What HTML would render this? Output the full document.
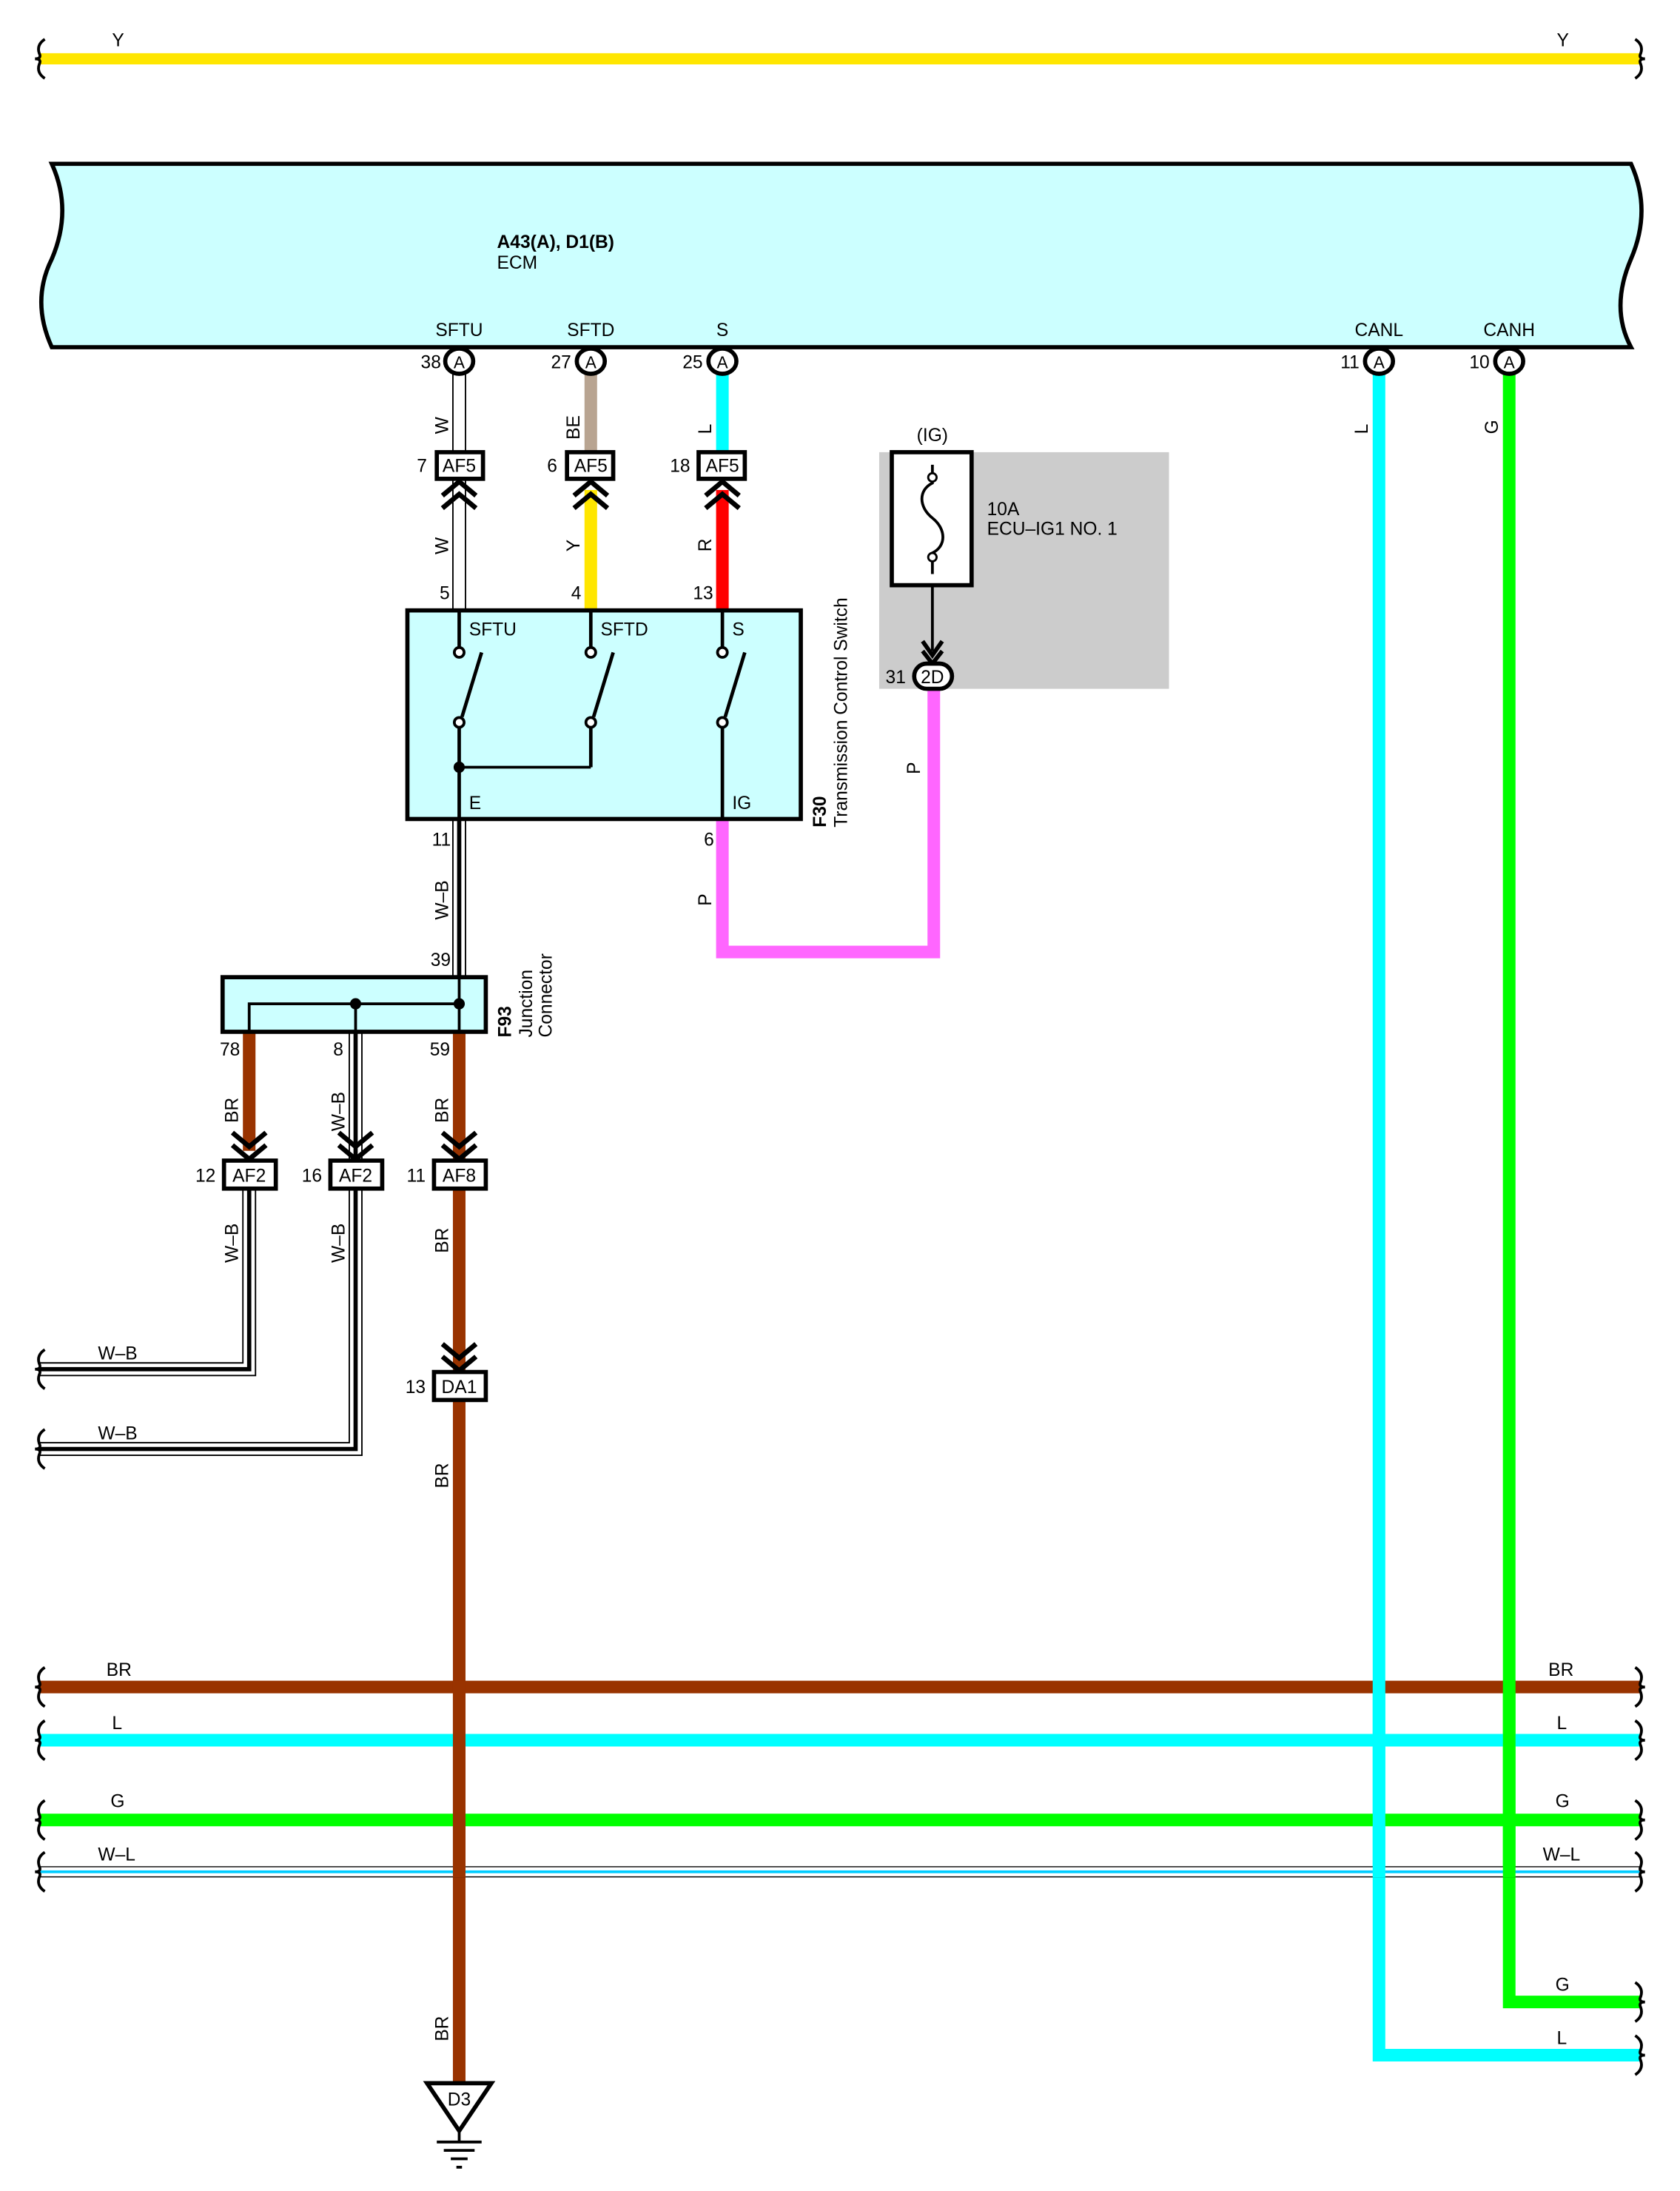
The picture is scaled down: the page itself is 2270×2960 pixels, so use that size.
<!DOCTYPE html>
<html><head><meta charset="utf-8"><style>
html,body{margin:0;padding:0;background:#fff}
svg{display:block}
text{font-family:"Liberation Sans",sans-serif;font-size:13px;fill:#000}
</style></head><body>
<svg width="2270" height="2960" viewBox="0 0 1200 1565" preserveAspectRatio="none" xmlns="http://www.w3.org/2000/svg">
<defs>
<g id="braceL"><path d="M4,-14 Q-2,-10 0,-4 Q2,0 -3,0 Q2,0 0,4 Q-2,10 4,14" fill="none" stroke="#000" stroke-width="2"/></g>
<g id="braceR"><path d="M-4,-14 Q2,-10 0,-4 Q-2,0 3,0 Q-2,0 0,4 Q2,10 -4,14" fill="none" stroke="#000" stroke-width="2"/></g>
<g id="chevUp"><path d="M-12,10 L0,0 L12,10 M-12,19 L0,9 L12,19" fill="none" stroke="#000" stroke-width="3.5"/></g>
<g id="chevDn"><path d="M-12,-10 L0,0 L12,-10 M-12,-19 L0,-9 L12,-19" fill="none" stroke="#000" stroke-width="3.5"/></g>
</defs>

<!-- top Y wire -->
<line x1="28" y1="42" x2="1172" y2="42" stroke="#ffe600" stroke-width="8"/>
<use href="#braceL" x="28" y="42"/><use href="#braceR" x="1172" y="42"/>
<text x="80" y="33">Y</text><text x="1112" y="33">Y</text>

<!-- ECM -->
<path d="M37,117 L1165,117 Q1180,150 1165,185 Q1150,220 1165,248 L37,248 Q22,215 37,185 Q52,150 37,117 Z" fill="#ccffff" stroke="#000" stroke-width="3"/>
<text x="355" y="177" font-weight="bold" style="font-weight:bold">A43(A), D1(B)</text>
<text x="355" y="192">ECM</text>
<g text-anchor="middle">
<text x="328" y="240">SFTU</text><text x="422" y="240">SFTD</text><text x="516" y="240">S</text>
<text x="985" y="240">CANL</text><text x="1078" y="240">CANH</text>
</g>

<!-- ECM-side wires -->
<line x1="328" y1="267" x2="328" y2="436" stroke="#000" stroke-width="10"/>
<line x1="328" y1="267" x2="328" y2="436" stroke="#fff" stroke-width="8"/>
<line x1="422" y1="267" x2="422" y2="322" stroke="#b8a491" stroke-width="9"/>
<line x1="422" y1="350" x2="422" y2="436" stroke="#ffe600" stroke-width="9"/>
<line x1="516" y1="267" x2="516" y2="322" stroke="#00ffff" stroke-width="9"/>
<line x1="516" y1="350" x2="516" y2="436" stroke="#ff0000" stroke-width="9"/>
<!-- CAN wires -->
<path d="M985,267 L985,1468 L1172,1468" fill="none" stroke="#00ffff" stroke-width="9"/>
<path d="M1078,267 L1078,1430 L1172,1430" fill="none" stroke="#00ff00" stroke-width="9"/>

<!-- pin circles -->
<g fill="#fff" stroke="#000" stroke-width="3">
<ellipse cx="328" cy="258" rx="10" ry="9"/><ellipse cx="422" cy="258" rx="10" ry="9"/><ellipse cx="516" cy="258" rx="10" ry="9"/>
<ellipse cx="985" cy="258" rx="10" ry="9"/><ellipse cx="1078" cy="258" rx="10" ry="9"/>
</g>
<g text-anchor="middle" font-size="12">
<text x="328" y="263" style="font-size:12px">A</text><text x="422" y="263" style="font-size:12px">A</text><text x="516" y="263" style="font-size:12px">A</text>
<text x="985" y="263" style="font-size:12px">A</text><text x="1078" y="263" style="font-size:12px">A</text>
</g>
<g text-anchor="end">
<text x="315" y="263">38</text><text x="408" y="263">27</text><text x="502" y="263">25</text>
<text x="971" y="263">11</text><text x="1064" y="263">10</text>
</g>

<!-- AF5 connectors -->
<g fill="#fff" stroke="#000" stroke-width="3">
<rect x="312" y="323" width="33" height="19"/><rect x="405" y="323" width="33" height="19"/><rect x="499" y="323" width="33" height="19"/>
</g>
<g text-anchor="middle"><text x="328" y="337">AF5</text><text x="422" y="337">AF5</text><text x="516" y="337">AF5</text></g>
<g text-anchor="end"><text x="305" y="337">7</text><text x="398" y="337">6</text><text x="493" y="337">18</text></g>
<use href="#chevUp" x="328" y="344"/><use href="#chevUp" x="422" y="344"/><use href="#chevUp" x="516" y="344"/>

<!-- rotated wire labels -->
<g font-size="12">
<text transform="translate(320,310) rotate(-90)">W</text>
<text transform="translate(320,396) rotate(-90)">W</text>
<text transform="translate(414,314) rotate(-90)">BE</text>
<text transform="translate(414,394) rotate(-90)">Y</text>
<text transform="translate(508,310) rotate(-90)">L</text>
<text transform="translate(508,394) rotate(-90)">R</text>
<text transform="translate(977,310) rotate(-90)">L</text>
<text transform="translate(1070,310) rotate(-90)">G</text>
<text transform="translate(320,657) rotate(-90)">W–B</text>
<text transform="translate(508,647) rotate(-90)">P</text>
<text transform="translate(657,553) rotate(-90)">P</text>
<text transform="translate(170,802) rotate(-90)">BR</text>
<text transform="translate(246,808) rotate(-90)">W–B</text>
<text transform="translate(320,802) rotate(-90)">BR</text>
<text transform="translate(170,902) rotate(-90)">W–B</text>
<text transform="translate(246,902) rotate(-90)">W–B</text>
<text transform="translate(320,895) rotate(-90)">BR</text>
<text transform="translate(320,1063) rotate(-90)">BR</text>
<text transform="translate(320,1458) rotate(-90)">BR</text>
</g>
<text x="314" y="428">5</text><text x="408" y="428">4</text><text x="495" y="428">13</text>

<!-- Gray IG box -->
<rect x="628" y="323" width="207" height="169" fill="#cccccc"/>
<text x="666" y="315" text-anchor="middle">(IG)</text>
<rect x="637" y="323" width="57" height="95" fill="#fff" stroke="#000" stroke-width="3"/>
<path d="M666,332 L666,345 C656,350 656,362 666,370 C676,378 676,390 666,395 L666,410" fill="none" stroke="#000" stroke-width="2"/>
<circle cx="666" cy="341" r="3" fill="#fff" stroke="#000" stroke-width="1.5"/>
<circle cx="666" cy="398" r="3" fill="#fff" stroke="#000" stroke-width="1.5"/>
<text x="705" y="368">10A</text><text x="705" y="382">ECU–IG1 NO. 1</text>
<line x1="666" y1="418" x2="666" y2="465" stroke="#000" stroke-width="2"/>
<path d="M659,458 L666,468 L673,458 M659,465 L666,474 L673,465" fill="none" stroke="#000" stroke-width="3"/>

<!-- P wire -->
<path d="M516,585 L516,680 L667,680 L667,492" fill="none" stroke="#ff66ff" stroke-width="9"/>
<rect x="653" y="474" width="27" height="18" rx="9" fill="#fff" stroke="#000" stroke-width="3"/>
<text x="666" y="488" text-anchor="middle">2D</text>
<text x="647" y="488" text-anchor="end">31</text>

<!-- W-B from E -->
<line x1="328" y1="585" x2="328" y2="698" stroke="#000" stroke-width="10"/>
<line x1="328" y1="585" x2="328" y2="698" stroke="#fff" stroke-width="8"/>
<line x1="328" y1="585" x2="328" y2="698" stroke="#000" stroke-width="3"/>
<text x="322" y="604" text-anchor="end">11</text>
<text x="510" y="604" text-anchor="end">6</text>
<text x="322" y="690" text-anchor="end">39</text>

<!-- F30 box -->
<rect x="291" y="436" width="281" height="149" fill="#ccffff" stroke="#000" stroke-width="3"/>
<g stroke="#000" stroke-width="2.5" fill="none">
<line x1="328" y1="436" x2="328" y2="463"/><line x1="328" y1="517" x2="328" y2="585"/>
<line x1="422" y1="436" x2="422" y2="463"/><line x1="422" y1="517" x2="422" y2="548"/>
<line x1="516" y1="436" x2="516" y2="463"/><line x1="516" y1="517" x2="516" y2="585"/>
<line x1="328" y1="548" x2="422" y2="548" stroke-width="2"/>
<line x1="330" y1="512" x2="344" y2="466"/>
<line x1="424" y1="512" x2="438" y2="466"/>
<line x1="518" y1="512" x2="532" y2="466"/>
</g>
<g fill="#fff" stroke="#000" stroke-width="2">
<circle cx="328" cy="466" r="3.5"/><circle cx="328" cy="516" r="3.5"/>
<circle cx="422" cy="466" r="3.5"/><circle cx="422" cy="516" r="3.5"/>
<circle cx="516" cy="466" r="3.5"/><circle cx="516" cy="516" r="3.5"/>
</g>
<circle cx="328" cy="548" r="4" fill="#000"/>
<text x="335" y="454">SFTU</text><text x="429" y="454">SFTD</text><text x="523" y="454">S</text>
<text x="335" y="578">E</text><text x="523" y="578">IG</text>
<text transform="translate(590,591) rotate(-90)" style="font-weight:bold">F30</text>
<text transform="translate(605,591) rotate(-90)">Transmission Control Switch</text>

<!-- below F93 wires -->
<line x1="178" y1="737" x2="178" y2="822" stroke="#993300" stroke-width="9"/>
<line x1="328" y1="737" x2="328" y2="1490" stroke="#993300" stroke-width="9"/>
<!-- W-B wires -->
<g fill="none">
<path d="M254,737 L254,1035 L28,1035" stroke="#000" stroke-width="10"/>
<path d="M254,737 L254,1035 L28,1035" stroke="#fff" stroke-width="8"/>
<path d="M254,737 L254,1035 L28,1035" stroke="#000" stroke-width="3"/>
<path d="M178,849 L178,978 L28,978" stroke="#000" stroke-width="10"/>
<path d="M178,849 L178,978 L28,978" stroke="#fff" stroke-width="8"/>
<path d="M178,849 L178,978 L28,978" stroke="#000" stroke-width="3"/>
</g>
<use href="#braceL" x="28" y="978"/><use href="#braceL" x="28" y="1035"/>
<text x="70" y="971">W–B</text><text x="70" y="1028">W–B</text>

<!-- F93 -->
<rect x="159" y="698" width="188" height="39" fill="#ccffff" stroke="#000" stroke-width="3"/>
<path d="M178,737 L178,717 L328,717 M254,717 L254,737 M328,698 L328,737" fill="none" stroke="#000" stroke-width="2"/>
<circle cx="254" cy="717" r="4" fill="#000"/><circle cx="328" cy="717" r="4" fill="#000"/>
<text transform="translate(365,741) rotate(-90)" style="font-weight:bold">F93</text>
<text transform="translate(380,741) rotate(-90)">Junction</text>
<text transform="translate(394,741) rotate(-90)">Connector</text>
<text x="157" y="754">78</text><text x="238" y="754">8</text><text x="307" y="754">59</text>

<use href="#chevDn" x="178" y="828"/><use href="#chevDn" x="254" y="828"/><use href="#chevDn" x="328" y="828"/>
<g fill="#fff" stroke="#000" stroke-width="3">
<rect x="160" y="829" width="37" height="20"/><rect x="236" y="829" width="37" height="20"/><rect x="310" y="829" width="37" height="20"/>
<rect x="310" y="980" width="37" height="20"/>
</g>
<g text-anchor="middle"><text x="178" y="844">AF2</text><text x="254" y="844">AF2</text><text x="328" y="844">AF8</text><text x="328" y="995">DA1</text></g>
<g text-anchor="end"><text x="154" y="844">12</text><text x="230" y="844">16</text><text x="304" y="844">11</text><text x="304" y="995">13</text></g>
<use href="#chevDn" x="328" y="979"/>

<!-- horizontal buses -->
<line x1="28" y1="1205" x2="1172" y2="1205" stroke="#993300" stroke-width="9"/>
<line x1="28" y1="1243" x2="1172" y2="1243" stroke="#00ffff" stroke-width="9"/>
<line x1="28" y1="1300" x2="1172" y2="1300" stroke="#00ff00" stroke-width="9"/>
<line x1="28" y1="1337" x2="1172" y2="1337" stroke="#000" stroke-width="8"/>
<line x1="28" y1="1337" x2="1172" y2="1337" stroke="#fff" stroke-width="6.5"/>
<line x1="28" y1="1337" x2="1172" y2="1337" stroke="#00ccff" stroke-width="2"/>
<line x1="328" y1="1201" x2="328" y2="1341" stroke="#993300" stroke-width="9"/>
<line x1="985" y1="1200" x2="985" y2="1341" stroke="#00ffff" stroke-width="9"/>
<line x1="1078" y1="1200" x2="1078" y2="1341" stroke="#00ff00" stroke-width="9"/>
<use href="#braceL" x="28" y="1205"/><use href="#braceR" x="1172" y="1205"/>
<use href="#braceL" x="28" y="1243"/><use href="#braceR" x="1172" y="1243"/>
<use href="#braceL" x="28" y="1300"/><use href="#braceR" x="1172" y="1300"/>
<use href="#braceL" x="28" y="1337"/><use href="#braceR" x="1172" y="1337"/>
<use href="#braceR" x="1172" y="1430"/><use href="#braceR" x="1172" y="1468"/>
<text x="76" y="1197">BR</text><text x="1106" y="1197">BR</text>
<text x="80" y="1235">L</text><text x="1112" y="1235">L</text>
<text x="79" y="1291">G</text><text x="1111" y="1291">G</text>
<text x="70" y="1329">W–L</text><text x="1102" y="1329">W–L</text>
<text x="1111" y="1422">G</text><text x="1112" y="1460">L</text>

<!-- ground -->
<path d="M305,1488 L351,1488 L328,1522 Z" fill="#fff" stroke="#000" stroke-width="3"/>
<text x="328" y="1504" text-anchor="middle">D3</text>
<g stroke="#000" stroke-width="2">
<line x1="328" y1="1522" x2="328" y2="1530"/>
<line x1="312" y1="1530" x2="344" y2="1530"/>
<line x1="317" y1="1536" x2="339" y2="1536"/>
<line x1="322" y1="1542" x2="334" y2="1542"/>
<line x1="326" y1="1548" x2="330" y2="1548"/>
</g>
</svg>
</body></html>
